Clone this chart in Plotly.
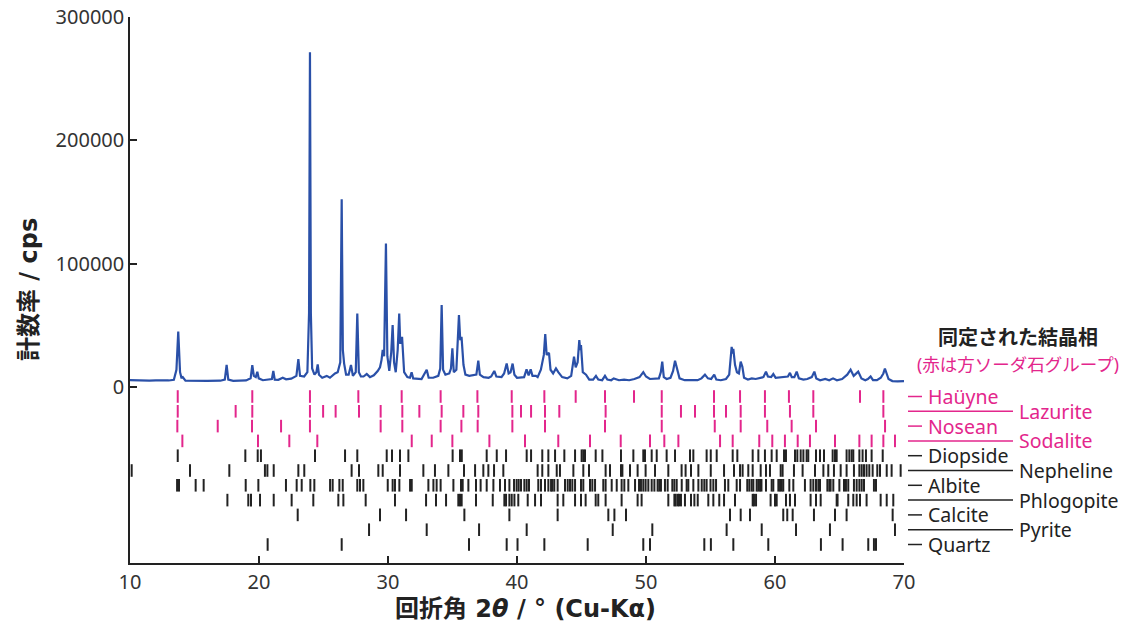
import plotly.graph_objects as go

# ---------------- data ----------------
two_theta = [10.0, 10.5, 11.0, 11.5, 12.0, 12.5, 13.0, 13.4, 13.6, 13.74, 13.88, 14.0, 14.05, 14.3,
             15.0, 16.0, 17.0, 17.35, 17.49, 17.62, 18.0, 18.5, 19.0, 19.35, 19.48, 19.6, 19.75,
             19.87, 19.98, 20.3, 20.7, 21.0, 21.11, 21.22, 21.5, 21.84, 22.1, 22.5, 22.9, 23.05,
             23.18, 23.5, 23.75, 23.88, 23.95, 24.02, 24.12, 24.3, 24.45, 24.55, 24.65, 24.9,
             25.25, 25.5, 25.89, 26.1, 26.3, 26.41, 26.5, 26.6, 26.75, 26.95, 27.13, 27.28, 27.5,
             27.62, 27.74, 27.9, 28.1, 28.35, 28.6, 28.9, 29.2, 29.38, 29.5, 29.59, 29.7, 29.84,
             29.95, 30.1, 30.25, 30.36, 30.47, 30.6, 30.75, 30.87, 30.95, 31.09, 31.25, 31.5,
             31.7, 31.83, 31.95, 32.3, 32.6, 33.0, 33.15, 33.5, 33.9, 34.05, 34.16, 34.27, 34.45,
             34.75, 34.88, 34.99, 35.1, 35.3, 35.5, 35.6, 35.7, 35.85, 36.0, 36.3, 36.6, 36.85,
             37.0, 37.12, 37.4, 37.8, 38.0, 38.24, 38.4, 38.8, 39.0, 39.2, 39.35, 39.5, 39.66,
             39.8, 40.0, 40.3, 40.55, 40.74, 40.9, 41.06, 41.2, 41.47, 41.6, 41.85, 41.99, 42.08,
             42.19, 42.3, 42.48, 42.6, 42.8, 43.02, 43.2, 43.5, 43.9, 44.2, 44.42, 44.55, 44.7,
             44.83, 44.9, 44.96, 45.1, 45.35, 45.6, 45.9, 46.12, 46.3, 46.6, 46.82, 47.0, 47.3,
             47.5, 47.9, 48.3, 48.7, 49.1, 49.5, 49.79, 50.0, 50.3, 50.7, 51.0, 51.15, 51.26,
             51.38, 51.6, 51.9, 52.1, 52.25, 52.4, 52.6, 53.0, 53.5, 54.0, 54.3, 54.57, 54.8,
             55.05, 55.29, 55.45, 55.8, 56.2, 56.45, 56.64, 56.72, 56.77, 56.9, 57.05, 57.2,
             57.34, 57.47, 57.6, 57.9, 58.2, 58.5, 58.8, 59.1, 59.3, 59.45, 59.7, 59.87, 60.05,
             60.4, 60.7, 61.0, 61.16, 61.3, 61.5, 61.68, 61.85, 62.2, 62.5, 62.85, 63.05, 63.2,
             63.5, 63.9, 64.2, 64.5, 64.8, 65.2, 65.6, 65.86, 66.1, 66.45, 66.7, 67.0, 67.2,
             67.41, 67.6, 67.9, 68.2, 68.4, 68.52, 68.65, 68.8, 69.1, 69.5, 70.0]
counts = [5600, 5300, 5500, 5200, 5400, 5100, 5300, 5800, 14000, 45000, 12000, 7000, 8500, 5200,
          5000, 4900, 5100, 6000, 18000, 6000, 5000, 5000, 5300, 7000, 17800, 9000, 8000,
          12400, 7000, 5500, 6000, 6500, 13000, 6000, 5800, 7500, 6200, 6800, 9000, 22700,
          9000, 8500, 12000, 60000, 271500, 60000, 15000, 10000, 12000, 18400, 10000, 7500,
          9000, 7500, 11000, 12000, 20000, 152200, 30000, 19000, 10000, 10000, 17800, 9000, 12000,
          59600, 12000, 8500, 8500, 10500, 8000, 9500, 13000, 16000, 22000, 30000, 25000, 116300,
          25000, 13000, 28000, 50200, 20000, 12000, 30000, 59600, 35000, 40700, 12000, 8000,
          7500, 12000, 7000, 7000, 6500, 14000, 7500, 7500, 9000, 15000, 66400, 14000, 10000,
          11000, 15000, 31300, 12000, 14000, 58300, 38000, 40700, 18000, 10000, 9000, 9500, 10000,
          21300, 10000, 8000, 7500, 8500, 13000, 8500, 8000, 11000, 19000, 11000, 12000, 19000,
          10000, 7500, 8000, 8000, 14300, 9500, 14300, 9000, 9000, 8000, 14000, 23200, 26000,
          42900, 26000, 27600, 14000, 11000, 15000, 12000, 8000, 7000, 9000, 24600, 16000, 20000,
          38000, 30000, 34000, 12000, 10000, 6000, 6000, 9000, 6000, 5500, 9000, 6000, 5500,
          7000, 5500, 6000, 5500, 6500, 8000, 12000, 8500, 6500, 6500, 7000, 12000, 20500,
          8000, 6500, 7500, 13000, 21300, 14000, 7000, 5500, 5200, 5500, 7000, 10000, 7000,
          6500, 10000, 6000, 5500, 6500, 10000, 32600, 27000, 31000, 18000, 12000, 11000,
          20500, 16500, 7500, 6000, 7000, 6500, 7500, 8000, 12500, 8500, 8000, 10500, 7500,
          8000, 8500, 8500, 11500, 8000, 8000, 12500, 7000, 6000, 6500, 8000, 12500, 7000,
          5500, 6500, 5500, 7000, 5500, 6500, 10000, 14000, 9000, 12500, 7000, 5500, 6500,
          8500, 5500, 5500, 7500, 11000, 15000, 10000, 6500, 4800, 4500, 4800]

hauyne = [13.70, 19.48, 23.95, 27.70, 31.06, 34.08, 36.93, 39.59, 42.12, 44.55, 46.82, 49.07,
          51.22, 55.27, 57.29, 59.22, 61.08, 62.97, 66.59, 68.40]
lazurite = [13.70, 18.19, 19.48, 23.95, 24.97, 25.94, 27.75, 29.43, 31.11, 32.43, 34.16, 35.84,
            37.00, 39.64, 40.31, 41.09, 42.17, 43.28, 46.87, 51.22, 52.71, 53.80, 55.27, 56.20,
            57.34, 59.22, 61.16, 62.97, 68.40]
nosean = [13.67, 16.80, 19.46, 21.71, 23.95, 29.43, 31.11, 34.08, 35.69, 36.95, 39.64, 42.17,
          46.82, 51.22, 55.33, 57.34, 59.40, 61.29, 63.18, 68.53]
sodalite = [14.06, 19.92, 22.35, 24.52, 31.84, 33.39, 34.99, 37.86, 40.62, 43.20, 45.66, 48.04,
            50.31, 51.42, 52.51, 55.74, 56.72, 58.78, 59.79, 60.77, 61.76, 62.71, 64.65, 66.54,
            67.49, 68.40, 69.30]
diopside = [13.70, 18.94, 19.90, 20.15, 24.34, 26.67, 27.62, 29.90, 30.31, 30.93, 31.58, 35.01,
            35.58, 35.72, 37.65, 38.43, 39.15, 40.75, 41.09, 41.96, 42.43, 42.95, 43.67, 44.50,
            45.01, 45.14, 45.27, 46.10, 46.62, 48.06, 49.02, 49.79, 49.92, 50.44, 50.83, 51.60,
            52.25, 53.41, 53.67, 54.70, 55.02, 55.48, 56.72, 57.08, 58.27, 58.71, 59.22, 59.74,
            60.13, 60.70, 60.85, 61.55, 61.73, 61.99, 62.20, 62.45, 62.58, 63.18, 63.49, 63.80,
            64.47, 64.65, 64.78, 65.55, 65.76, 65.94, 66.07, 66.54, 66.79, 67.05, 67.49, 68.35]
nepheline = [10.13, 14.65, 17.70, 20.46, 20.65, 21.14, 23.05, 23.51, 27.18, 27.75, 29.25, 29.59,
             30.93, 32.74, 33.64, 34.68, 35.89, 36.75, 37.39, 37.78, 38.22, 38.94, 41.60, 41.96,
             42.43, 43.08, 43.33, 44.37, 45.14, 45.58, 46.87, 47.21, 48.06, 48.17, 48.76, 49.35,
             49.97, 50.70, 51.73, 52.76, 53.07, 53.49, 54.06, 55.02, 56.05, 56.82, 57.29, 57.49,
             57.93, 58.27, 58.89, 59.30, 59.61, 60.44, 60.59, 61.47, 62.14, 63.10, 63.75, 64.13,
             64.57, 65.09, 65.55, 66.12, 66.54, 66.72, 66.90, 67.10, 67.31, 67.57, 67.93, 68.14,
             68.66, 69.04, 69.74]
albite = [13.65, 13.80, 15.09, 15.71, 18.97, 19.95, 22.09, 22.92, 23.31, 23.98, 24.29, 25.51,
          25.71, 26.23, 26.49, 27.62, 27.83, 28.09, 29.98, 30.36, 30.54, 30.88, 31.71, 31.84,
          33.13, 33.52, 33.77, 34.08, 35.07, 35.66, 35.79, 36.23, 36.82, 37.18, 37.65, 38.17,
          38.68, 39.07, 39.41, 39.77, 39.97, 40.13, 40.31, 40.57, 40.75, 40.93, 41.65, 41.86,
          42.17, 42.43, 42.64, 42.74, 42.89, 43.15, 43.72, 43.93, 44.11, 44.29, 44.50, 44.96,
          45.14, 45.66, 45.84, 46.05, 46.69, 46.87, 47.34, 47.73, 48.11, 48.32, 48.63, 49.15,
          49.46, 49.61, 49.79, 49.97, 50.18, 50.44, 50.65, 50.90, 51.03, 51.16, 51.47, 51.68,
          52.04, 52.20, 52.38, 52.77, 53.15, 53.28, 53.67, 54.06, 54.32, 54.52, 54.70, 55.00,
          55.22, 55.43, 56.12, 56.38, 57.03, 57.29, 57.85, 58.01, 58.19, 58.32, 58.58, 58.71,
          58.84, 58.95, 59.30, 59.74, 59.87, 60.26, 60.39, 60.52, 60.64, 61.11, 61.42, 62.32,
          62.76, 62.97, 63.18, 63.36, 63.49, 64.06, 64.21, 64.31, 64.52, 64.99, 65.35, 65.50,
          65.68, 66.12, 66.33, 66.54, 66.72, 66.90, 67.67, 67.83]
phlogopite = [17.55, 19.17, 19.38, 20.08, 21.14, 22.53, 24.21, 26.15, 26.54, 28.27, 30.54, 32.95,
              33.72, 34.50, 35.45, 35.58, 35.71, 36.82, 38.12, 39.02, 39.15, 39.41, 39.59, 39.80,
              40.10, 40.83, 41.40, 41.86, 43.15, 43.59, 44.50, 44.96, 45.32, 46.10, 46.30, 46.87,
              48.11, 49.35, 49.66, 51.73, 52.20, 52.30, 52.45, 52.56, 52.71, 53.02, 53.49, 53.75,
              54.01, 54.83, 55.22, 55.68, 56.05, 56.90, 58.27, 58.37, 58.53, 59.66, 60.00, 60.13,
              60.85, 61.16, 61.55, 62.76, 63.18, 63.54, 64.78, 64.85, 65.68, 66.07, 66.33, 66.59,
              67.10, 68.19, 68.66, 69.17]
calcite = [23.00, 29.38, 31.40, 35.92, 39.41, 43.15, 47.08, 47.55, 48.45, 56.51, 57.34, 58.06,
           60.64, 60.95, 61.37, 63.02, 64.65, 65.55, 69.12]
pyrite = [28.53, 33.00, 37.06, 40.75, 47.42, 50.49, 56.25, 58.97, 61.63, 64.26, 69.30]
quartz = [20.67, 26.41, 36.28, 39.20, 40.04, 42.12, 45.48, 49.79, 50.31, 54.52, 55.03, 56.77,
          59.48, 63.56, 65.24, 67.23, 67.67, 67.83]

phase_names = ["Haüyne", "Lazurite", "Nosean", "Sodalite", "Diopside", "Nepheline",
               "Albite", "Phlogopite", "Calcite", "Pyrite", "Quartz"]
phase_lists = [hauyne, lazurite, nosean, sodalite, diopside, nepheline,
               albite, phlogopite, calcite, pyrite, quartz]

x_ticks = [10, 20, 30, 40, 50, 60, 70]
y_ticks = [0, 100000, 200000, 300000]

# ---------------- styling ----------------
BLUE = "#2a50a8"
MAGENTA = "#e3268c"
DARK = "#222222"
FONT = "Noto Sans, Noto Sans CJK JP, sans-serif"
TFONT = "DejaVu Sans, Noto Sans CJK JP, sans-serif"
YMIN, YMAX = -142700, 300000
ROW0, ROWSTEP, HALF = -7700, -12000, 5100

# the page body margin is removed, so figure pixels = window pixels
W, H = 1126, 628
SX0, SX1, SY0, SY1 = 130, 904, 17, 563          # plot box in window pixels
ML, MT = SX0, SY0
MR, MB = W - SX1, H - SY1


def px(xs):
    return (xs - SX0) / (SX1 - SX0)


def py(ys):
    return (SY1 - ys) / (SY1 - SY0)


fig = go.Figure()

fig.add_trace(go.Scatter(x=two_theta, y=counts, mode="lines",
                         line=dict(color=BLUE, width=2.2), hoverinfo="skip"))

for k, (name, pos) in enumerate(zip(phase_names, phase_lists)):
    yc = ROW0 + k * ROWSTEP
    xs, ys = [], []
    for p in pos:
        xs += [p, p, None]
        ys += [yc - HALF, yc + HALF, None]
    col = MAGENTA if k < 4 else DARK
    fig.add_trace(go.Scatter(x=xs, y=ys, mode="lines", line=dict(color=col, width=2),
                             hoverinfo="skip", name=name))

annotations = []
shapes = []
for k, name in enumerate(phase_names):
    col = MAGENTA if k < 4 else DARK
    yp = 396.5 + 14.8 * k
    if k % 2 == 0:
        x_end, x_txt = 922, 926
    else:
        x_end, x_txt = 1013, 1017
    shapes.append(dict(type="line", xref="paper", yref="paper", x0=px(908), x1=px(x_end),
                       y0=py(yp), y1=py(yp), line=dict(color=col, width=1.5)))
    annotations.append(dict(text=name, xref="paper", yref="paper", x=px(x_txt), y=py(yp),
                            xanchor="left", yanchor="middle", showarrow=False,
                            font=dict(size=19.5, color=col, family=FONT)))

annotations.append(dict(text="<b>同定された結晶相</b>", xref="paper", yref="paper",
                        x=px(1018), y=py(337), xanchor="center", yanchor="middle",
                        showarrow=False, font=dict(size=20, color=DARK, family=FONT)))
annotations.append(dict(text="(赤は方ソーダ石グループ)", xref="paper", yref="paper",
                        x=px(1018), y=py(364), xanchor="center", yanchor="middle",
                        showarrow=False, font=dict(size=17.5, color=MAGENTA, family=FONT)))
annotations.append(dict(text="<b>計数率 / cps</b>", xref="paper", yref="paper",
                        x=px(29), y=py(290), xanchor="center", yanchor="middle",
                        textangle=-90, showarrow=False,
                        font=dict(size=24, color=DARK, family=TFONT)))
annotations.append(dict(text="<b>回折角 2<i>θ</i> / ° (Cu-Kα)</b>", xref="paper", yref="paper",
                        x=px(525), y=py(609), xanchor="center", yanchor="middle",
                        showarrow=False, font=dict(size=24, color=DARK, family=TFONT)))

axis_common = dict(ticks="inside", ticklen=7, tickwidth=1.5, tickcolor=DARK,
                   showline=True, linecolor=DARK, linewidth=1.5, showgrid=False,
                   zeroline=False, automargin=False, ticklabeloverflow="allow",
                   tickfont=dict(size=20, color="#333333", family=FONT))

fig.update_layout(
    width=W, height=H,
    margin=dict(l=ML, r=MR, t=MT, b=MB, pad=0, autoexpand=False),
    paper_bgcolor="white", plot_bgcolor="white",
    showlegend=False,
    font=dict(family=FONT, color="#333333"),
    annotations=annotations, shapes=shapes,
    xaxis=dict(range=[10, 70], tickvals=x_ticks, ticktext=[str(v) for v in x_ticks],
               **axis_common),
    yaxis=dict(range=[YMIN, YMAX], tickvals=y_ticks, ticktext=[str(v) for v in y_ticks],
               **axis_common),
)

fig.write_html("out.html", config={"displayModeBar": False},
               post_script="document.body.style.margin='0';document.body.style.overflow='hidden';")
